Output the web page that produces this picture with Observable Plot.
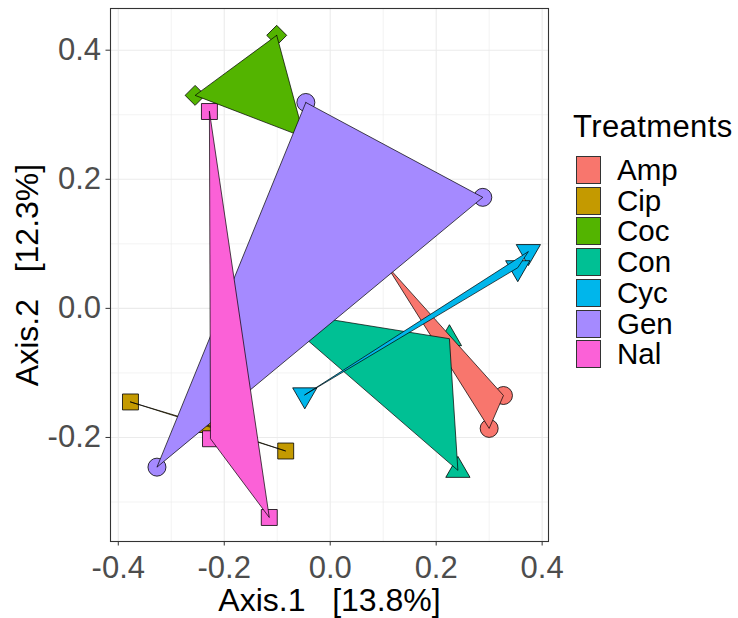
<!DOCTYPE html>
<html>
<head>
<meta charset="utf-8">
<script src="https://cdn.jsdelivr.net/npm/d3@7"></script>
<script src="https://cdn.jsdelivr.net/npm/@observablehq/plot@0.6"></script>
<style>
  body { margin: 0; background: #fff; }
  #wrap { position: relative; width: 738px; height: 618px; font-family: "Liberation Sans", Arial, sans-serif; }
  #legend { position: absolute; left: 0; top: 0; }
  .ltitle { position: absolute; left: 573px; top: 109px; font-size: 31px; letter-spacing: 0.4px; color: #000; white-space: nowrap; }
  .lkey { position: absolute; left: 576px; width: 23px; height: 26px; border: 1px solid #333; }
  .llab { position: absolute; left: 617px; font-size: 29.5px; color: #000; white-space: nowrap; line-height: 30px; }
</style>
</head>
<body>
<div id="wrap"><div id="chart"></div><div id="legend"></div></div>
<script>
// ---- data ----
const treatments = ["Amp", "Cip", "Coc", "Con", "Cyc", "Gen", "Nal"];
const palette = ["#F8766D", "#C49A00", "#53B400", "#00C094", "#00B6EB", "#A58AFF", "#FB61D7"];
const shapeNames = ["circle", "square", "diamond2", "triangle", "triangle", "circle", "square"];
const shapeRotation = [0, 0, 0, 0, 180, 0, 0];

const sampleTreatment = [
  "Amp", "Amp", "Amp",
  "Cip", "Cip", "Cip",
  "Coc", "Coc", "Coc",
  "Con", "Con", "Con",
  "Cyc", "Cyc", "Cyc",
  "Gen", "Gen", "Gen",
  "Nal", "Nal", "Nal"
];
const axis1 = [
  0.106, 0.327, 0.300,
  -0.377, -0.235, -0.084,
  -0.101, -0.255, -0.049,
  -0.108, 0.225, 0.241,
  -0.048, 0.374, 0.354,
  -0.046, 0.288, -0.327,
  -0.228, -0.226, -0.115
];
const axis2 = [
  0.067, -0.135, -0.186,
  -0.145, -0.180, -0.221,
  0.423, 0.330, 0.265,
  -0.003, -0.047, -0.251,
  -0.134, 0.088, 0.063,
  0.319, 0.172, -0.246,
  0.305, -0.202, -0.324
];

const xMajor = [-0.4, -0.2, 0.0, 0.2, 0.4];
const xMinor = [-0.3, -0.1, 0.1, 0.3];
const yMajor = [-0.2, 0.0, 0.2, 0.4];
const yMinor = [-0.3, -0.1, 0.1, 0.3];
const xTitle = "Axis.1\u00a0\u00a0\u00a0[13.8%]";
const yTitle = "Axis.2\u00a0\u00a0\u00a0[12.3%]";
const legendTitle = "Treatments";

// ---- build tables ----
const points = sampleTreatment.map((t, i) => ({ t, x: axis1[i], y: axis2[i] }));
const outlines = [];
treatments.forEach(t => {
  const g = points.filter(p => p.t === t);
  outlines.push(...g, g[0]);
});
const idx = t => treatments.indexOf(t);

const chart = Plot.plot({
  width: 738,
  height: 618,
  marginLeft: 110,
  marginRight: 190,
  marginTop: 8,
  marginBottom: 77,
  style: { fontFamily: "'Liberation Sans', Arial, sans-serif", background: "#fff" },
  x: { domain: [-0.4147, 0.412] },
  y: { domain: [-0.3612, 0.4646] },
  color: { domain: treatments, range: palette },
  marks: [
    Plot.gridX(xMinor, { stroke: "#EBEBEB", strokeOpacity: 1, strokeWidth: 0.6 }),
    Plot.gridY(yMinor, { stroke: "#EBEBEB", strokeOpacity: 1, strokeWidth: 0.6 }),
    Plot.gridX(xMajor, { stroke: "#EBEBEB", strokeOpacity: 1, strokeWidth: 1.1 }),
    Plot.gridY(yMajor, { stroke: "#EBEBEB", strokeOpacity: 1, strokeWidth: 1.1 }),
    Plot.dot(points, {
      x: "x", y: "y", fill: "t",
      symbol: d => shapeNames[idx(d.t)],
      rotate: d => shapeRotation[idx(d.t)],
      r: 9, stroke: "#000", strokeWidth: 0.8
    }),
    Plot.line(outlines, {
      x: "x", y: "y", z: "t", fill: "t",
      stroke: "#000", strokeWidth: 0.7, strokeLinejoin: "miter"
    }),
    Plot.frame({ stroke: "#333", strokeWidth: 1.1 }),
    Plot.axisX(xMajor, {
      tickSize: 4.5, tickPadding: 10, fontSize: 31,
      tickFormat: d => d.toFixed(1), color: "#4D4D4D", stroke: "#333", label: null
    }),
    Plot.axisY(yMajor, {
      tickSize: 4.5, tickPadding: 5, fontSize: 31,
      tickFormat: d => d.toFixed(1), color: "#4D4D4D", stroke: "#333", label: null
    }),
    Plot.text([xTitle], { text: d => d, frameAnchor: "bottom", textAnchor: "middle", lineAnchor: "bottom", dy: 69, fontSize: 32, fill: "#000" }),
    Plot.text([yTitle], { text: d => d, frameAnchor: "left", textAnchor: "middle", lineAnchor: "bottom", dx: -73, rotate: -90, fontSize: 32, fill: "#000" })
  ]
});
document.getElementById("chart").appendChild(chart);

// ---- legend ----
const leg = document.getElementById("legend");
const title = document.createElement("div");
title.className = "ltitle";
title.textContent = legendTitle;
leg.appendChild(title);
treatments.forEach((t, i) => {
  const top = 156 + i * 30.7;
  const k = document.createElement("div");
  k.className = "lkey";
  k.style.top = top + "px";
  k.style.background = palette[i];
  leg.appendChild(k);
  const l = document.createElement("div");
  l.className = "llab";
  l.style.top = (top - 1) + "px";
  l.textContent = t;
  leg.appendChild(l);
});
</script>
</body>
</html>
